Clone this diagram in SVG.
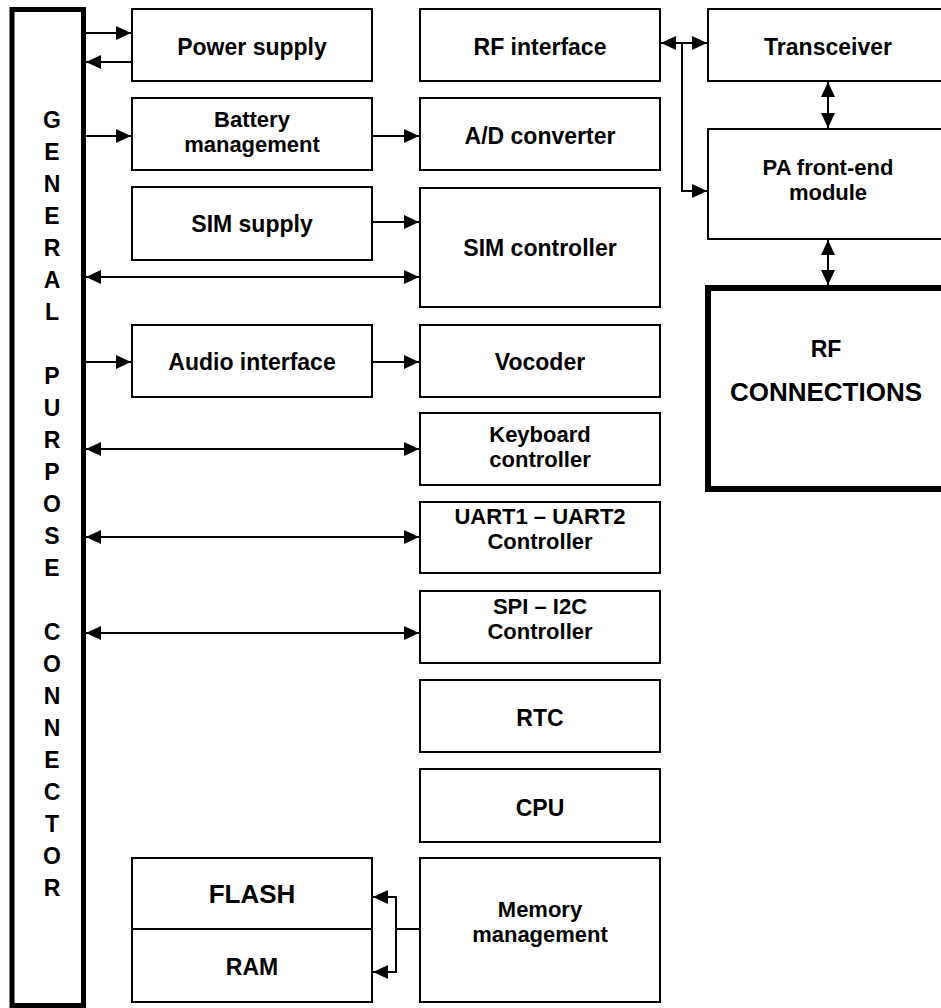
<svg xmlns="http://www.w3.org/2000/svg" width="941" height="1008" viewBox="0 0 941 1008">
<style>
  .box { fill: #fff; stroke: #000; stroke-width: 2; }
  .thick { fill: #fff; stroke: #000; stroke-width: 5; }
  .rfc { fill: #fff; stroke: #000; stroke-width: 6; }
  text { font-family: "Liberation Sans", Arial, sans-serif; font-weight: bold; font-size: 23px; fill: #000; text-anchor: middle; }
  .two { font-size: 22px; }
  .big { font-size: 26px; }
  .ln { fill: none; stroke: #000; stroke-width: 2; }
</style>
<defs>
  <marker id="ah" viewBox="0 0 15 14" refX="15" refY="7" markerWidth="15" markerHeight="14" markerUnits="userSpaceOnUse" orient="auto-start-reverse">
    <path d="M0,0 L15,7 L0,14 z" fill="#000"/>
  </marker>
</defs>
<rect width="941" height="1008" fill="#fff"/>

<g id="connector">
  <rect class="thick" x="12" y="9.5" width="71.5" height="996"/>
  <text x="52" y="128">G</text>
  <text x="52" y="160">E</text>
  <text x="52" y="192">N</text>
  <text x="52" y="224">E</text>
  <text x="52" y="256">R</text>
  <text x="52" y="288">A</text>
  <text x="52" y="320">L</text>
  <text x="52" y="384">P</text>
  <text x="52" y="416">U</text>
  <text x="52" y="448">R</text>
  <text x="52" y="480">P</text>
  <text x="52" y="512">O</text>
  <text x="52" y="544">S</text>
  <text x="52" y="576">E</text>
  <text x="52" y="640">C</text>
  <text x="52" y="672">O</text>
  <text x="52" y="704">N</text>
  <text x="52" y="736">N</text>
  <text x="52" y="768">E</text>
  <text x="52" y="800">C</text>
  <text x="52" y="832">T</text>
  <text x="52" y="864">O</text>
  <text x="52" y="896">R</text>
</g>

<g id="power-supply"><rect class="box" x="132" y="9" width="240" height="72"/><text x="252" y="55">Power supply</text></g>
<g id="battery"><rect class="box" x="132" y="98" width="240" height="72"/><text class="two" x="252" y="127">Battery</text><text class="two" x="252" y="152">management</text></g>
<g id="sim-supply"><rect class="box" x="132" y="187" width="240" height="73"/><text x="252" y="232">SIM supply</text></g>
<g id="audio"><rect class="box" x="132" y="325" width="240" height="72"/><text x="252" y="370">Audio interface</text></g>
<g id="flash-ram"><rect class="box" x="132" y="858" width="240" height="144"/><line class="ln" x1="132" y1="929" x2="372" y2="929"/><text class="big" x="252" y="903">FLASH</text><text x="252" y="975">RAM</text></g>

<g id="rf-interface"><rect class="box" x="420" y="9" width="240" height="72"/><text x="540" y="55">RF interface</text></g>
<g id="ad"><rect class="box" x="420" y="98" width="240" height="72"/><text x="540" y="144">A/D converter</text></g>
<g id="sim-ctrl"><rect class="box" x="420" y="188" width="240" height="119"/><text x="540" y="256">SIM controller</text></g>
<g id="vocoder"><rect class="box" x="420" y="325" width="240" height="72"/><text x="540" y="370">Vocoder</text></g>
<g id="keyboard"><rect class="box" x="420" y="413" width="240" height="72"/><text class="two" x="540" y="442">Keyboard</text><text class="two" x="540" y="467">controller</text></g>
<g id="uart"><rect class="box" x="420" y="502" width="240" height="71"/><text class="two" x="540" y="524">UART1 – UART2</text><text class="two" x="540" y="549">Controller</text></g>
<g id="spi"><rect class="box" x="420" y="591" width="240" height="72"/><text class="two" x="540" y="614">SPI – I2C</text><text class="two" x="540" y="639">Controller</text></g>
<g id="rtc"><rect class="box" x="420" y="680" width="240" height="72"/><text x="540" y="726">RTC</text></g>
<g id="cpu"><rect class="box" x="420" y="769" width="240" height="73"/><text x="540" y="816">CPU</text></g>
<g id="memory"><rect class="box" x="420" y="858" width="240" height="144"/><text class="two" x="540" y="917">Memory</text><text class="two" x="540" y="942">management</text></g>

<g id="transceiver"><rect class="box" x="708" y="9" width="260" height="72"/><text x="828" y="55">Transceiver</text></g>
<g id="pa"><rect class="box" x="708" y="129" width="260" height="110"/><text class="two" x="828" y="175">PA front-end</text><text class="two" x="828" y="200">module</text></g>
<g id="rf-connections"><rect class="rfc" x="708" y="288" width="260" height="201"/><text x="826" y="357">RF</text><text class="big" x="826" y="401">CONNECTIONS</text></g>

<g id="connectors">
  <line class="ln" x1="86" y1="33" x2="131" y2="33" marker-end="url(#ah)"/>
  <line class="ln" x1="131" y1="62" x2="86" y2="62" marker-end="url(#ah)"/>
  <line class="ln" x1="86" y1="136" x2="131" y2="136" marker-end="url(#ah)"/>
  <line class="ln" x1="372" y1="136" x2="419" y2="136" marker-end="url(#ah)"/>
  <line class="ln" x1="372" y1="222" x2="419" y2="222" marker-end="url(#ah)"/>
  <line class="ln" x1="86" y1="277" x2="419" y2="277" marker-start="url(#ah)" marker-end="url(#ah)"/>
  <line class="ln" x1="86" y1="362" x2="131" y2="362" marker-end="url(#ah)"/>
  <line class="ln" x1="372" y1="362" x2="419" y2="362" marker-end="url(#ah)"/>
  <line class="ln" x1="86" y1="449" x2="419" y2="449" marker-start="url(#ah)" marker-end="url(#ah)"/>
  <line class="ln" x1="86" y1="537" x2="419" y2="537" marker-start="url(#ah)" marker-end="url(#ah)"/>
  <line class="ln" x1="86" y1="633" x2="419" y2="633" marker-start="url(#ah)" marker-end="url(#ah)"/>
  <line class="ln" x1="661" y1="43" x2="707" y2="43" marker-start="url(#ah)" marker-end="url(#ah)"/>
  <polyline class="ln" points="682,43 682,191 707,191" marker-end="url(#ah)"/>
  <line class="ln" x1="828" y1="82" x2="828" y2="128" marker-start="url(#ah)" marker-end="url(#ah)"/>
  <line class="ln" x1="828" y1="240" x2="828" y2="285" marker-start="url(#ah)" marker-end="url(#ah)"/>
  <line class="ln" x1="419" y1="929" x2="396" y2="929"/>
  <polyline class="ln" points="373,897 396,897 396,972 373,972" marker-start="url(#ah)" marker-end="url(#ah)"/>
</g>
</svg>
